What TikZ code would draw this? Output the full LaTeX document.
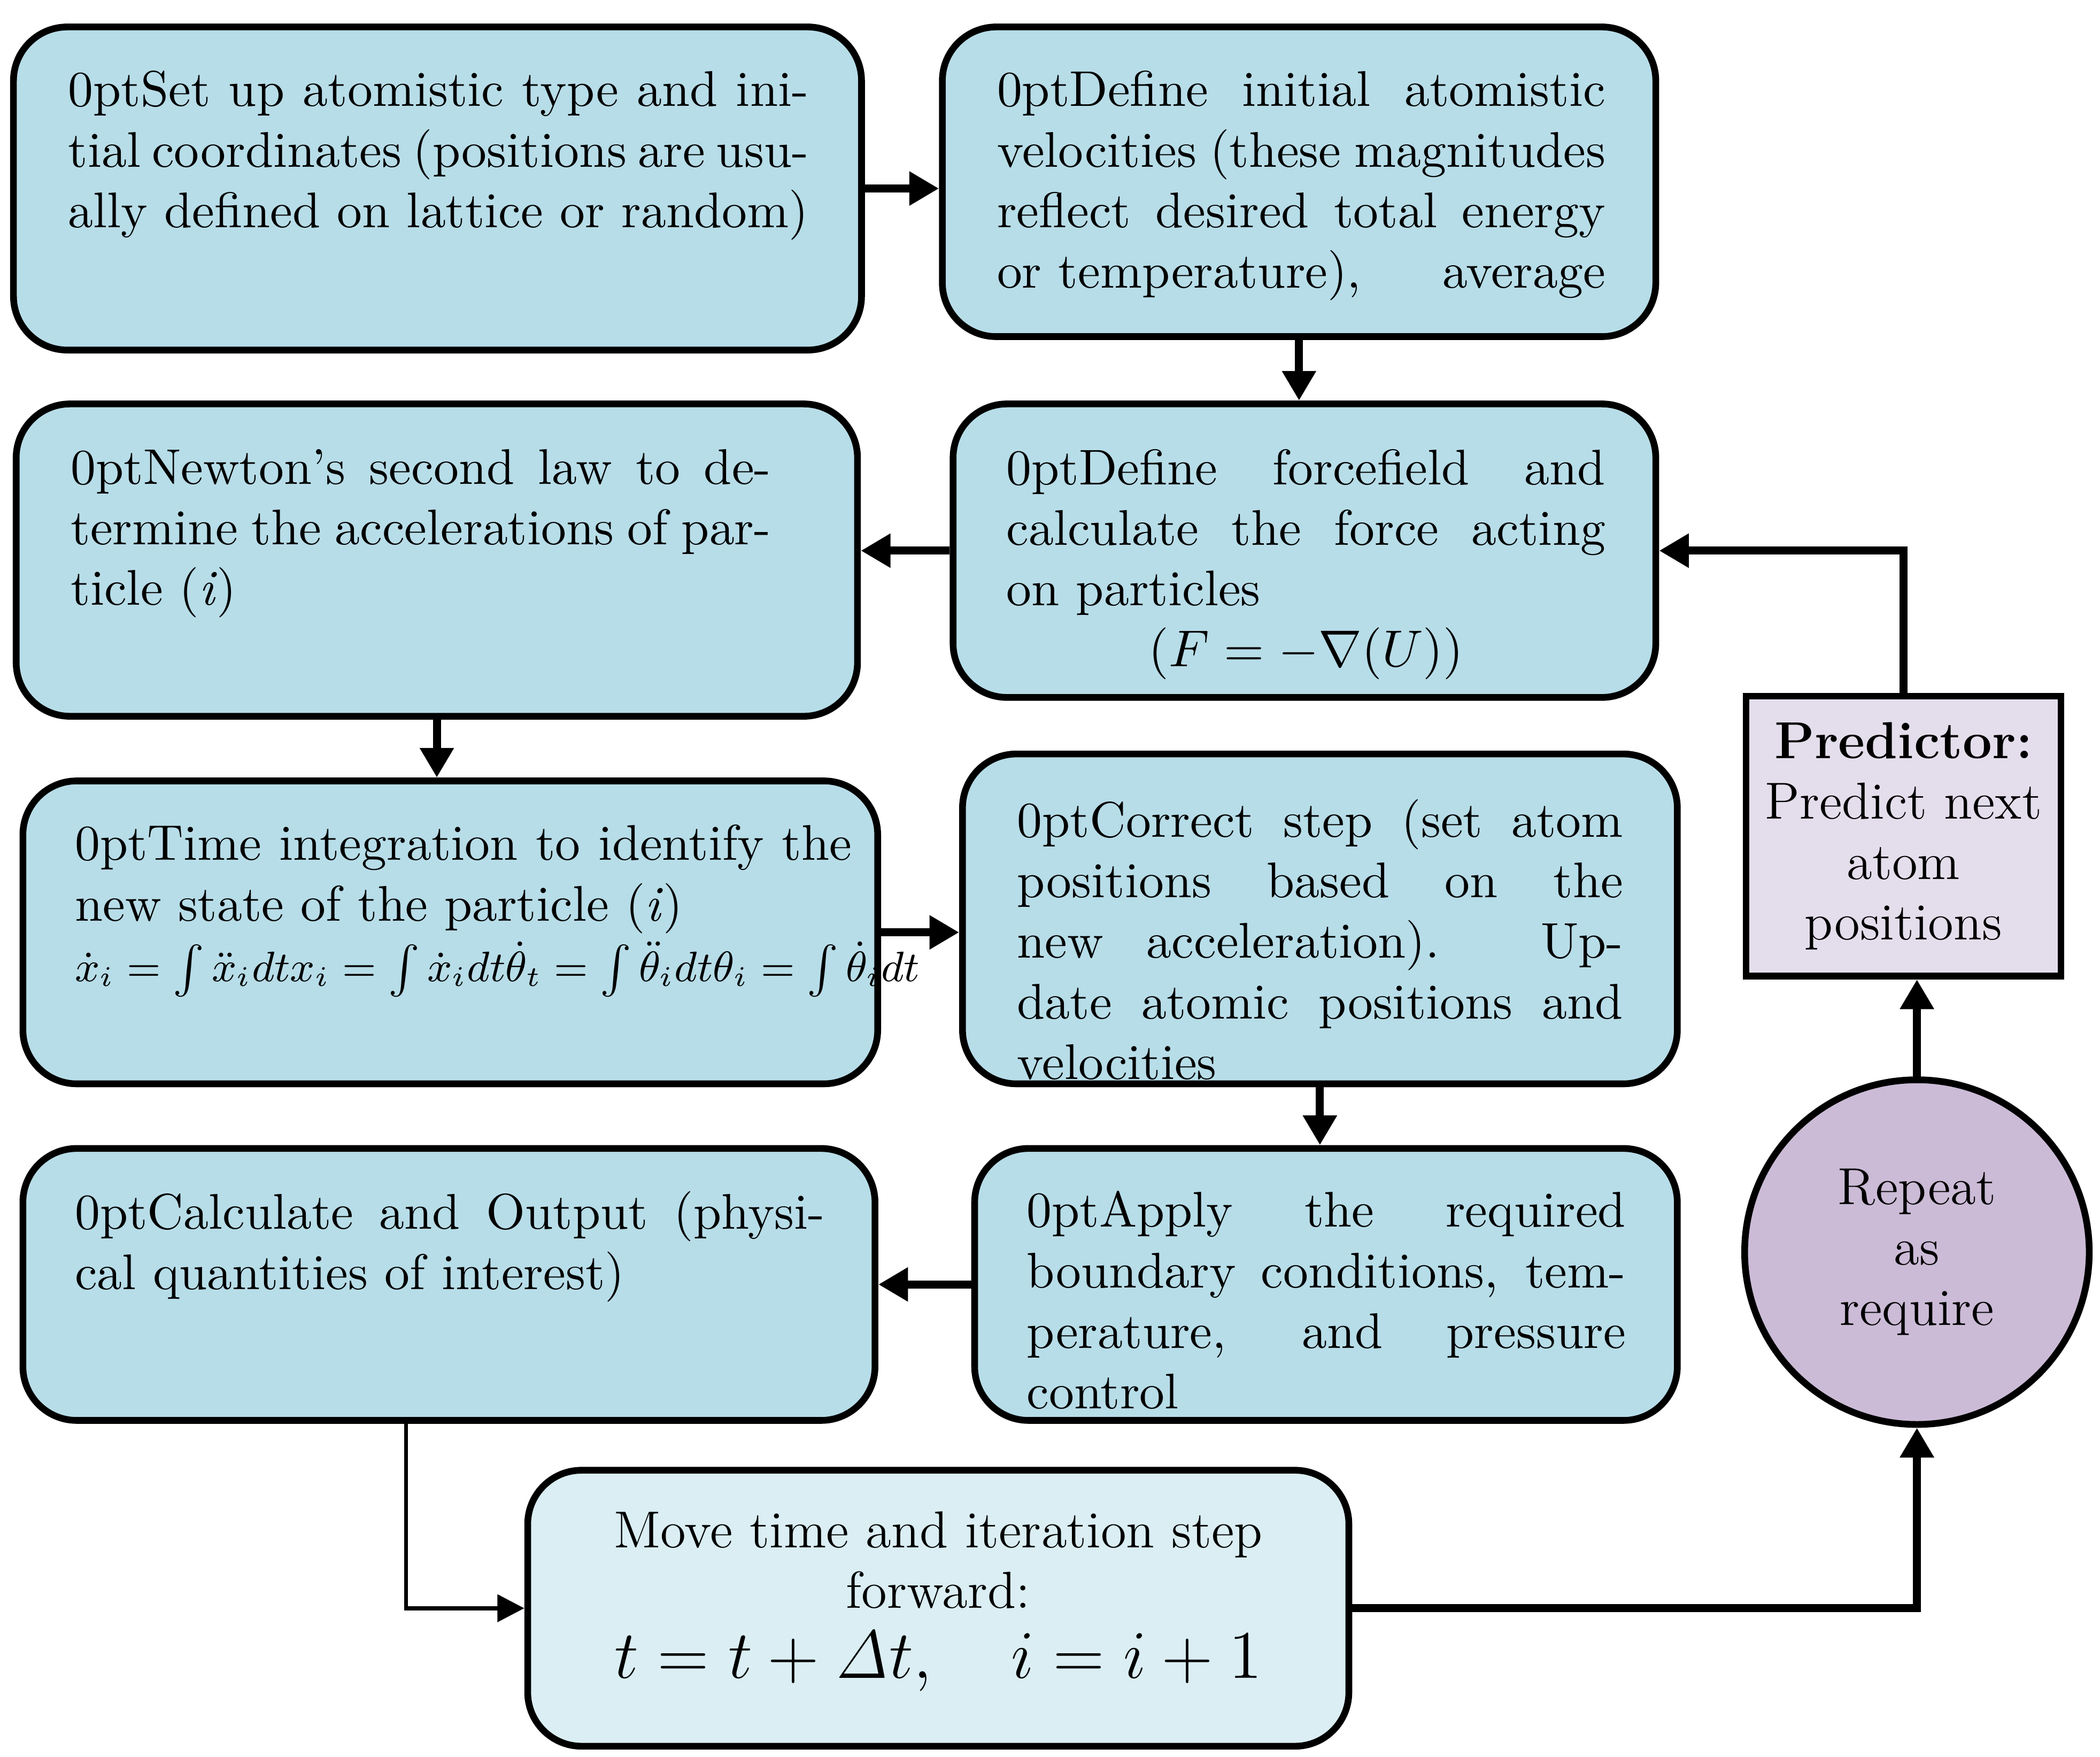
\documentclass[tikz,border=0pt]{standalone}
\usetikzlibrary{arrows.meta,calc}
\definecolor{boxblue}{HTML}{B7DDE8}
\definecolor{lightblue}{HTML}{DAEEF3}
\definecolor{predfill}{HTML}{E4DEEC}
\definecolor{circfill}{HTML}{CBBBD6}
\begin{document}
\fontsize{11}{12.8}\selectfont
\begin{tikzpicture}[x=0.1mm,y=-0.1mm,
  box/.style={draw, line width=0.5mm, rounded corners=4mm, fill=boxblue, inner sep=0pt},
  txt/.style={anchor=north west, align=justify, inner sep=0pt, font=\fontsize{10.6}{12.8}\selectfont\hyphenpenalty=10000\exhyphenpenalty=10000},
  arr/.style={line width=0.6mm, -{Triangle[length=2.2mm,width=2.4mm]}},
  thinarr/.style={line width=0.3mm, -{Triangle[length=2mm,width=2mm]}}]
\useasboundingbox (0,0) rectangle (1560,1305);
\node[box, minimum width=63mm, minimum height=24mm] (A) at (325,140) {};
\node[box, minimum width=53mm, minimum height=23mm] (B) at (965,135) {};
\node[box, minimum width=52.2mm, minimum height=21.8mm] (C) at (969,409) {};
\node[box, minimum width=62.5mm, minimum height=23.2mm] (D) at (324.5,416) {};
\node[box, minimum width=63.5mm, minimum height=22.5mm] (E) at (334.5,692.5) {};
\node[box, minimum width=53.1mm, minimum height=24.5mm] (F) at (980.5,682.5) {};
\node[box, minimum width=52.2mm, minimum height=20.2mm] (G) at (985,954) {};
\node[box, minimum width=63.3mm, minimum height=20.2mm] (H) at (333.5,954) {};
\node[box, fill=lightblue, minimum width=61mm, minimum height=20.5mm] (I) at (697,1194.5) {};
\node[draw, line width=0.5mm, fill=predfill, minimum width=23.4mm, minimum height=20.8mm, align=center] (P) at (1414,621)
  {\textbf{Predictor:}\\Predict next\\atom\\positions};
\node[draw, line width=0.5mm, fill=circfill, circle, minimum size=25.6mm, align=center] (R) at (1424,930)
  {Repeat\\as\\require};

\node[txt, text width=55mm] (tA) at (50,52) {Set up atomistic type and initial coordinates (positions are usually defined on lattice or random)};
\node[txt, text width=45.2mm] (tB) at (740,52) {Define initial atomistic velocities (these magnitudes reflect desired total energy or temperature),\hfill average};
\node[txt, text width=44.5mm] (tC) at (747,333) {Define forcefield and calculate the force acting on particles\par
 {\centering $(F = {-}\nabla(U))$\par}};
\node[txt, text width=52mm] (tD) at (52,333) {Newton's second law to determine the accelerations of particle (\textit{i})};
\node[txt, text width=57.7mm] (tE) at (55,612) {Time integration to identify the new state of the particle (\textit{i})\\
 \makebox[\linewidth][l]{\small$\dot x_i=\int\ddot x_i dt x_i=\int\dot x_i dt\dot\theta_t=\int\ddot\theta_i dt\theta_i=\int\dot\theta_i dt$}};
\node[txt, text width=45mm] (tF) at (755,593) {Correct step (set atom positions based on the new acceleration). Update atomic positions and velocities};
\node[txt, text width=44.5mm] (tG) at (762,884) {Apply the required boundary conditions, temperature, and pressure control};
\node[txt, text width=55.7mm] (tH) at (55,884) {Calculate and Output (physical quantities of interest)};
\node[align=center, inner sep=0pt, anchor=north] (tI) at (697,1122) {Move time and iteration step\\forward:\\[2pt]{\Large $t=t+\mathit{\Delta} t,\quad i=i+1$}};

\draw[arr] (A.east) -- (A.east -| B.west);
\draw[arr] (B.south) -- (B.south |- C.north);
\draw[arr] (C.west) -- (C.west -| D.east);
\draw[arr] (D.south) -- (D.south |- E.north);
\draw[arr] (E.east) -- (E.east -| F.west);
\draw[arr] (F.south) -- (F.south |- G.north);
\draw[arr] (G.west) -- (G.west -| H.east);
\draw[thinarr] ($(H.south west)!0.45!(H.south east)$) |- (I.west);
\draw[arr] (I.east) -| (R.south);
\draw[arr] (R.north) -- (R.north |- P.south);
\draw[arr] (P.north) |- (C.east);
\end{tikzpicture}
\end{document}
